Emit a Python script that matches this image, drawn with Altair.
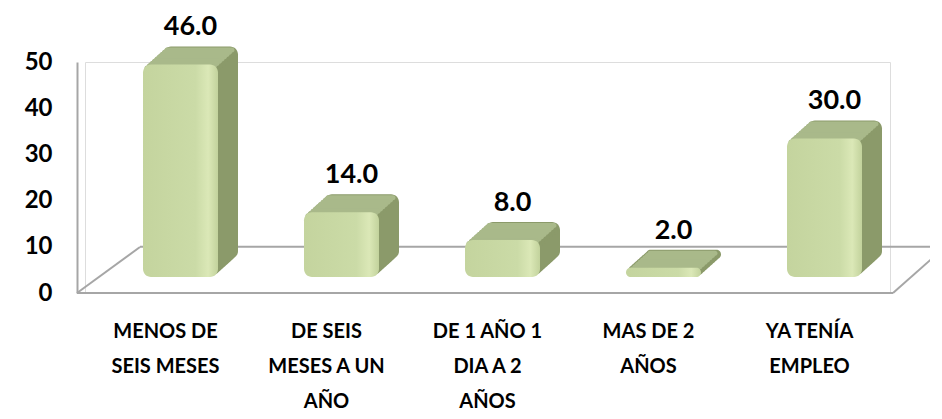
import altair as alt
import pandas as pd

categories = [
    "MENOS DE\nSEIS MESES",
    "DE SEIS\nMESES A UN\nAÑO",
    "DE 1 AÑO 1\nDIA A 2\nAÑOS",
    "MAS DE 2\nAÑOS",
    "YA TENÍA\nEMPLEO",
]
values = [46.0, 14.0, 8.0, 2.0, 30.0]
y_ticks = [0, 10, 20, 30, 40, 50]

df = pd.DataFrame({"cat": categories, "val": values})
one = pd.DataFrame({"z": [0]})

FONT = "Lato"
W, H = 805, 231
BX = 15          # shift of the bar fronts to the right of band centres
BY = -16         # bars stand a bit behind the front floor edge
DEPTH_X, DEPTH_Y = 20, -18
N = 8
SIDE = "#8b9a6a"
TOP = "#a9b98a"
GRAY = "#a6a6a6"

xenc = alt.X("cat:N", sort=categories, title=None,
             scale=alt.Scale(paddingInner=0.0, paddingOuter=0.0),
             axis=alt.Axis(labelExpr="split(datum.label, '\\n')", labelAngle=0,
                           labelFont=FONT, labelFontSize=20, labelFontWeight="bold",
                           labelColor="#000000", labelPadding=28, labelLineHeight=35,
                           labelBaseline="top", ticks=False, domain=False,
                           labelLimit=200))
yenc = alt.Y("val:Q", title=None,
             scale=alt.Scale(domain=[0, 50], nice=False, zero=True),
             axis=alt.Axis(values=y_ticks, labelFont=FONT, labelFontSize=24,
                           labelFontWeight="bold", labelColor="#000000",
                           ticks=False, grid=False, domainColor=GRAY, domainWidth=2,
                           offset=8, labelPadding=25))

base = alt.Chart(df)

# floor lines (decoration)
back_line = alt.Chart(one).mark_rule(color=GRAY, strokeWidth=2).encode(
    y=alt.datum(10), x=alt.value(55), x2=alt.value(860))
front_line = alt.Chart(one).mark_rule(color=GRAY, strokeWidth=2).encode(
    y=alt.datum(0), x=alt.value(-8), x2=alt.value(808))
left_diag = alt.Chart(one).mark_rule(color=GRAY, strokeWidth=2).encode(
    x=alt.value(-8), y=alt.value(H), x2=alt.value(55), y2=alt.value(H - 46))
right_diag = alt.Chart(one).mark_rule(color=GRAY, strokeWidth=2).encode(
    x=alt.value(808), y=alt.value(H), x2=alt.value(860), y2=alt.value(H - 46))

layers = [back_line, front_line, left_diag, right_diag]

# side faces (extruded)
for k in range(N, 0, -1):
    ox = BX + DEPTH_X * k / N
    oy = BY + DEPTH_Y * k / N
    layers.append(base.mark_bar(color=SIDE, cornerRadius=8, xOffset=ox, yOffset=oy,
                                y2Offset=oy).encode(x=xenc, y=yenc, y2=alt.datum(0),
                                                     size=alt.value(75)))
# top faces
for k in range(N, -1, -1):
    ox = BX + DEPTH_X * k / N
    oy = BY + DEPTH_Y * k / N
    layers.append(base.mark_bar(color=TOP, cornerRadius=4, xOffset=ox - 1, yOffset=oy + 1,
                                y2Offset=oy + 6).encode(x=xenc, y=yenc, y2="val:Q",
                                                        size=alt.value(70)))

front_fill = alt.Gradient(
    gradient="linear", x1=0, x2=1, y1=0, y2=0,
    stops=[alt.GradientStop(color="#c4d49e", offset=0),
           alt.GradientStop(color="#cbdba7", offset=0.7),
           alt.GradientStop(color="#dbe8b7", offset=0.87),
           alt.GradientStop(color="#c2d29c", offset=1)])
front = base.mark_bar(color=front_fill, cornerRadius=8, xOffset=BX, yOffset=BY,
                      y2Offset=BY).encode(x=xenc, y=yenc, y2=alt.datum(0),
                                          size=alt.value(75))
layers.append(front)

labels = base.mark_text(font=FONT, fontSize=27, fontWeight="bold", color="#000000",
                        baseline="alphabetic", dx=BX + 10, dy=-45).encode(
    x=xenc, y=yenc, text=alt.Text("val:Q", format=".1f"))
layers.append(labels)

chart = alt.layer(*layers).properties(
    width=W, height=H,
    autosize=alt.AutoSizeParams(type="none"),
    padding={"left": 77, "top": 54, "right": 40, "bottom": 117},
).configure_view(stroke=None).configure(background="#ffffff")

chart.save("out.html", embed_options={"renderer": "svg", "actions": False})
